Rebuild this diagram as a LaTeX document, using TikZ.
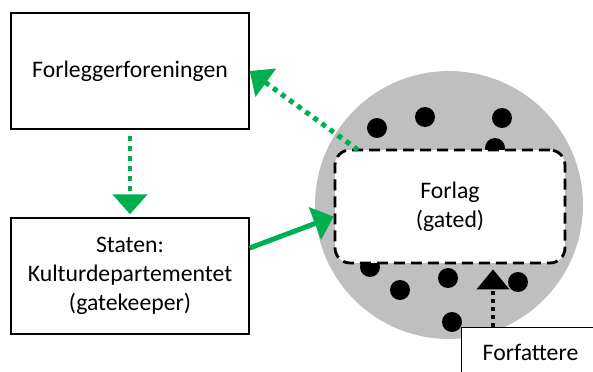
\documentclass[tikz,border=0pt]{standalone}
\usepackage{fontspec}
\setmainfont{Carlito}
\usetikzlibrary{positioning, shapes, arrows.meta}
\definecolor{officegreen}{HTML}{00B050}
\definecolor{poolgray}{HTML}{BFBFBF}

\begin{document}
\begin{tikzpicture}[x=0.02cm, y=-0.02cm, font=\fontsize{13.5}{16.5}\selectfont,
  box/.style={draw, thick, fill=white, minimum width=4.76cm, minimum height=2.32cm, align=center},
  dot/.style={circle, fill=black, minimum size=0.4cm, inner sep=0pt},
  greenarrow/.style={officegreen, line width=0.1cm, -{Triangle[length=0.4cm,width=0.68cm]}},
  dotline/.style={dash pattern=on 0.1cm off 0.1cm}]
\clip (0,0) rectangle (593,372);

% the two boxes on the left
\node[box] (fore) at (130,71) {Forleggerforeningen};
\node[box] (staten) at (130,276) {Staten:\\Kulturdepartementet\\(gatekeeper)};

% grey pool with the publishers as dots
\fill[poolgray] (449,205) circle (2.68cm);
\node[dot] (d1) at (377,128) {};
\node[dot] (d2) at (425,117) {};
\node[dot] (d3) at (502,118) {};
\node[dot] (d4) at (495,148) {};
\node[dot] (d5) at (370,267) {};
\node[dot] (d6) at (400,290) {};
\node[dot] (d7) at (448,278) {};
\node[dot] (d8) at (518,282) {};
\node[dot] (d9) at (452,322) {};

% the gate
\node[draw, fill=white, line width=1.6pt, dash pattern=on 0.22cm off 0.12cm,
  rounded corners=0.3cm, minimum width=4.6cm, minimum height=2.26cm, align=center]
  (forlag) at (450,206.5) {Forlag\\(gated)};

\node[draw, thick, fill=white, anchor=north west, minimum width=3.2cm, minimum height=1cm,
  inner xsep=0.42cm, text width=2.36cm, align=left] (forf) at (461,327) {Forfattere};

\coordinate (gate) at (358,150);
\coordinate (pen) at (493,327);

\draw[greenarrow, dotline] (gate) -- (fore.east);
\draw[greenarrow, dotline, shorten <=0.12cm, shorten >=0.06cm] (fore.south) -- (staten.north);
\draw[greenarrow] ([yshift=0.56cm]staten.east) -- ([yshift=-0.2cm]forlag.west);
\draw[line width=0.08cm, dash pattern=on 0.08cm off 0.08cm, shorten >=0.1cm,
  -{Triangle[length=0.4cm,width=0.64cm]}] (pen) -- (pen |- forlag.south);
\end{tikzpicture}
\end{document}
